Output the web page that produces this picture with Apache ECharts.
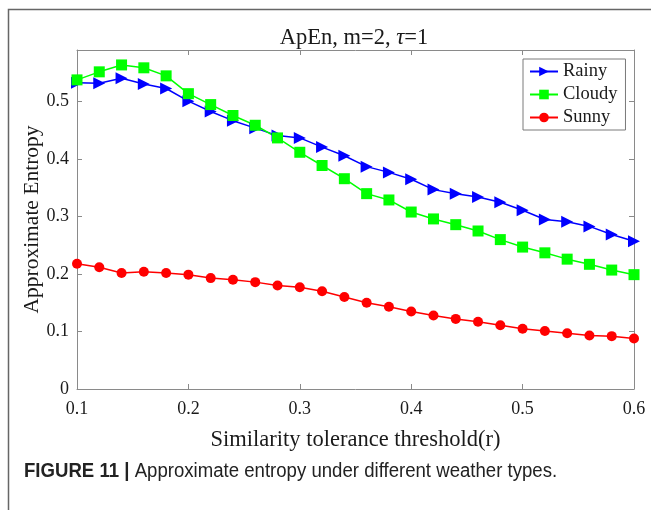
<!DOCTYPE html>
<html>
<head>
<meta charset="utf-8">
<script src="https://cdn.jsdelivr.net/npm/echarts@6/dist/echarts.min.js"></script>
<style>
	html, body { margin: 0; padding: 0; background: #fff; }
	#chart { width: 651px; height: 510px; }
</style>
</head>
<body>
<div id="chart"></div>
<script>
	// r 取值
	var rValues = [0.10, 0.12, 0.14, 0.16, 0.18, 0.20, 0.22, 0.24, 0.26, 0.28, 0.30, 0.32, 0.34,
		0.36, 0.38, 0.40, 0.42, 0.44, 0.46, 0.48, 0.50, 0.52, 0.54, 0.56, 0.58, 0.60];
	var rainy = [0.533, 0.532, 0.541, 0.531, 0.523, 0.501, 0.483, 0.467, 0.454, 0.441, 0.437, 0.421, 0.406,
		0.387, 0.377, 0.365, 0.347, 0.340, 0.334, 0.325, 0.311, 0.295, 0.291, 0.283, 0.269, 0.257];
	var cloudy = [0.538, 0.552, 0.564, 0.559, 0.545, 0.514, 0.495, 0.476, 0.459, 0.437, 0.412, 0.389, 0.366,
		0.340, 0.329, 0.308, 0.296, 0.286, 0.275, 0.260, 0.247, 0.237, 0.226, 0.217, 0.207, 0.199];
	var sunny = [0.218, 0.212, 0.202, 0.204, 0.202, 0.199, 0.193, 0.190, 0.186, 0.180, 0.177, 0.170, 0.160,
		0.150, 0.143, 0.135, 0.128, 0.122, 0.117, 0.111, 0.105, 0.101, 0.097, 0.093, 0.092, 0.088];
	var seriesNames = ['Rainy', 'Cloudy', 'Sunny'];

	function pairs(ys) {
		var out = [];
		for (var i = 0; i < rValues.length; i++) {
			out.push([rValues[i], ys[i]]);
		}
		return out;
	}

	var serif = '"Liberation Serif", "Times New Roman", serif';
	var sans = '"Liberation Sans Narrow", "Liberation Sans", Arial, sans-serif';
	var boxColor = '#8a8a8a';

	var myChart = echarts.init(document.getElementById('chart'));

	function axisBase(show) {
		return {
			axisLine : { show : true, onZero : false, lineStyle : { color : boxColor, width : 1 } },
			axisTick : { show : true, inside : true, length : 5, lineStyle : { color : boxColor } },
			splitLine : { show : false },
			axisLabel : { show : show, color : '#1a1a1a', fontFamily : serif, fontSize : 18 }
		};
	}

	var xMain = axisBase(true);
	xMain.type = 'value';
	xMain.min = 0.1;
	xMain.max = 0.6;
	xMain.interval = 0.1;
	xMain.axisLabel.margin = 11;
	xMain.name = 'Similarity tolerance threshold(r)';
	xMain.nameLocation = 'middle';
	xMain.nameGap = 40;
	xMain.nameMoveOverlap = false;
	xMain.nameTextStyle = { color : '#1a1a1a', fontFamily : serif, fontSize : 22.5 };

	var xTop = axisBase(false);
	xTop.type = 'value';
	xTop.position = 'top';
	xTop.min = 0.1;
	xTop.max = 0.6;
	xTop.interval = 0.1;

	var yMain = axisBase(true);
	yMain.type = 'value';
	yMain.min = 0;
	yMain.max = 0.59;
	yMain.interval = 0.1;
	yMain.axisLabel.margin = 8;
	yMain.axisLabel.showMaxLabel = false;
	yMain.axisLabel.formatter = function(v) { return v === 0 ? '0' : String(Math.round(v * 10) / 10); };
	yMain.name = 'Approximate Entropy';
	yMain.nameLocation = 'middle';
	yMain.nameGap = 34;
	yMain.nameMoveOverlap = false;
	yMain.nameTextStyle = { color : '#1a1a1a', fontFamily : serif, fontSize : 21.5 };

	var yRight = axisBase(false);
	yRight.type = 'value';
	yRight.position = 'right';
	yRight.min = 0;
	yRight.max = 0.59;
	yRight.interval = 0.1;

	function lineSeries(name, ys, color, symbol, size, rotate) {
		return {
			name : name,
			type : 'line',
			data : pairs(ys),
			symbol : symbol,
			symbolSize : size,
			symbolRotate : rotate,
			showAllSymbol : true,
			lineStyle : { color : color, width : 1.5 },
			itemStyle : { color : color, borderWidth : 0 },
			animation : false
		};
	}

	var option = {
		backgroundColor : '#fff',
		animation : false,
		title : {
			text : 'ApEn, m=2, {i|τ}=1',
			left : 349,
			textAlign : 'center',
			top : 22,
			textStyle : {
				color : '#1a1a1a',
				fontFamily : serif,
				fontSize : 22.5,
				fontWeight : 'normal',
				rich : {
					i : { fontFamily : serif, fontSize : 22.5, fontStyle : 'italic', color : '#1a1a1a' }
				}
			}
		},
		grid : { left : 77, right : 17, top : 50, bottom : 121 },
		legend : {
			data : seriesNames,
			orient : 'vertical',
			left : 523,
			top : 59,
			width : 100,
			padding : [3, 8, 3, 6],
			itemGap : 4,
			itemWidth : 28,
			itemHeight : 12,
			backgroundColor : '#fff',
			borderColor : '#7a7a7a',
			borderWidth : 1,
			textStyle : { color : '#1a1a1a', fontFamily : serif, fontSize : 18.5 }
		},
		xAxis : [ xMain, xTop ],
		yAxis : [ yMain, yRight ],
		series : [
			lineSeries('Rainy', rainy, '#0000ff', 'triangle', 12, -90),
			lineSeries('Cloudy', cloudy, '#00ff00', 'rect', 11, 0),
			lineSeries('Sunny', sunny, '#ff0000', 'circle', 10, 0)
		],
		graphic : [ {
			type : 'polyline',
			shape : { points : [ [8.5, 510], [8.5, 9.5], [651, 9.5] ] },
			style : { stroke : '#666', lineWidth : 1.5, fill : null }
		}, {
			type : 'text',
			x : 24,
			y : 461,
			scaleX : 0.93,
			style : {
				text : '{b|FIGURE 11 |} Approximate entropy under different weather types.',
				fill : '#222',
				font : '20px ' + sans,
				rich : {
					b : { fontWeight : 'bold', fontSize : 20, fontFamily : sans, fill : '#222' }
				}
			}
		} ]
	};
	myChart.setOption(option);
</script>
</body>
</html>
